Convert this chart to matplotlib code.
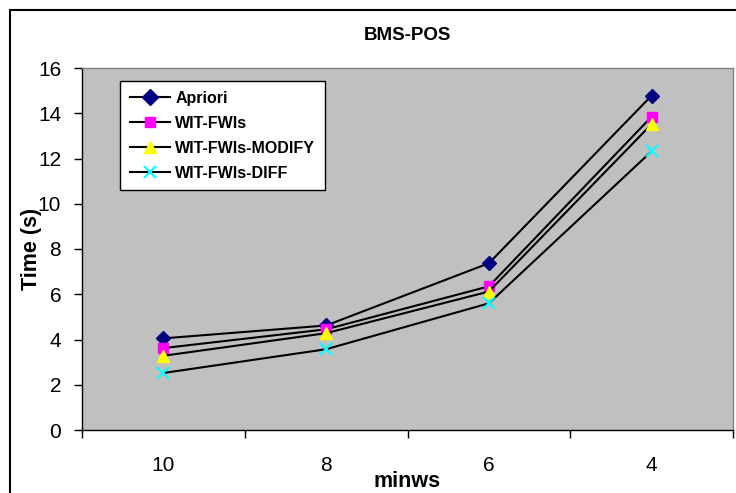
import matplotlib.pyplot as plt
from matplotlib.patches import Rectangle

plt.rcParams['font.family'] = ['Liberation Sans', 'DejaVu Sans']

minws = ['10', '8', '6', '4']
apriori = [4.05, 4.62, 7.37, 14.78]
wit_fwis = [3.62, 4.45, 6.35, 13.85]
wit_modify = [3.28, 4.28, 6.12, 13.52]
wit_diff = [2.52, 3.57, 5.6, 12.32]

fig = plt.figure(figsize=(7.36, 4.93), dpi=100)
# outer chart border (Excel style)
fig.patches.append(Rectangle((10 / 736, -0.05), 1.0, 1 - 10 / 493 + 0.05,
                             transform=fig.transFigure, fill=False,
                             edgecolor='black', linewidth=1.5))

ax = fig.add_axes([82 / 736, 1 - 430 / 493, 651 / 736, 362 / 493])
ax.set_facecolor('#C0C0C0')

x = range(len(minws))
ax.plot(x, apriori, 'k-', marker='D', markersize=7, markerfacecolor='#000080',
        markeredgecolor='#000080', linewidth=1.5, label='Apriori')
ax.plot(x, wit_fwis, 'k-', marker='s', markersize=7, markerfacecolor='#FF00FF',
        markeredgecolor='#FF00FF', linewidth=1.5, label='WIT-FWIs')
ax.plot(x, wit_modify, 'k-', marker='^', markersize=8, markerfacecolor='#FFFF00',
        markeredgecolor='#FFFF00', linewidth=1.5, label='WIT-FWIs-MODIFY')
ax.plot(x, wit_diff, 'k-', marker='x', markersize=8, markeredgecolor='#00FFFF',
        markeredgewidth=1.5, linewidth=1.5, label='WIT-FWIs-DIFF')

ax.set_xlim(-0.5, len(minws) - 0.5)
ax.set_ylim(0, 16)
ax.set_yticks(range(0, 17, 2))
ax.set_xticks([i - 0.5 for i in range(len(minws) + 1)])
ax.set_xticklabels([])
ax.set_xticks(list(x), minor=True)
ax.set_xticklabels(minws, minor=True)
ax.tick_params(axis='x', which='major', direction='out', length=6, width=1)
ax.tick_params(axis='x', which='minor', length=0, pad=19, labelsize=15)
ax.tick_params(axis='y', direction='out', length=6, width=1, labelsize=15, pad=9)

for s in ax.spines.values():
    s.set_color('black')
    s.set_linewidth(1)
ax.spines['top'].set_color('#808080')
ax.spines['right'].set_color('#808080')

ax.set_title('BMS-POS', fontsize=13.5, fontweight='bold', pad=20.5)
ax.set_xlabel('minws', fontsize=15.5, fontweight='bold', labelpad=-3.5)
ax.set_ylabel('Time (s)', fontsize=15.5, fontweight='bold', labelpad=-3)

leg = ax.legend(loc='upper left', bbox_to_anchor=(38 / 651, (430 - 81) / 362),
                borderaxespad=0, frameon=True, fancybox=False, edgecolor='black',
                prop={'weight': 'bold', 'size': 11.5}, handlelength=2.5,
                handletextpad=0.35, borderpad=0.6, labelspacing=0.63,
                markerscale=1.1)
leg.get_frame().set_linewidth(1)
leg.get_frame().set_facecolor('white')
leg.get_frame().set_alpha(1)

plt.savefig('out.png', dpi=100)
